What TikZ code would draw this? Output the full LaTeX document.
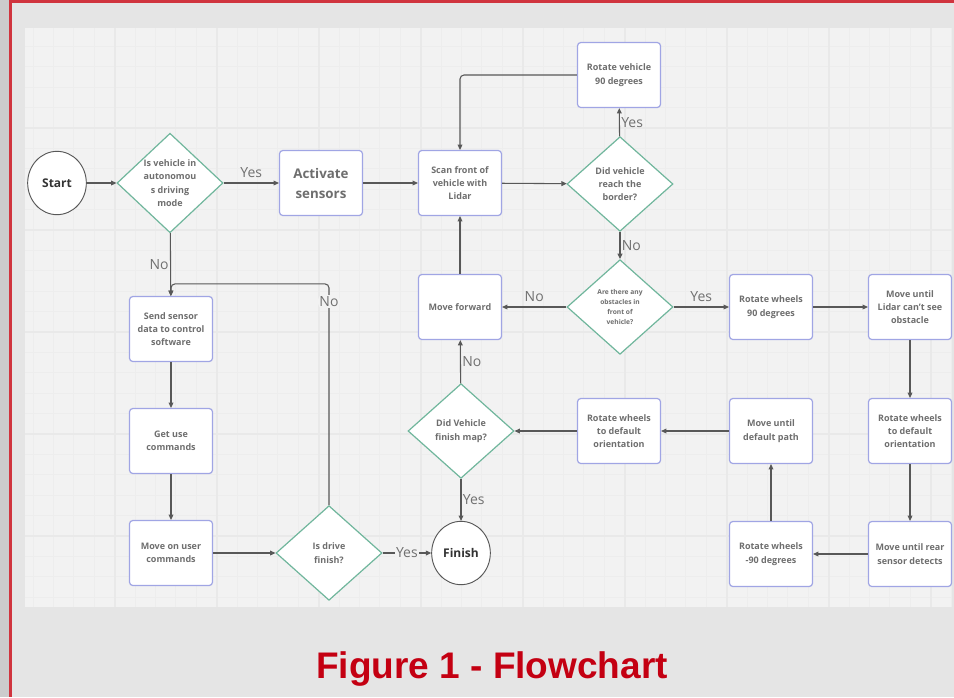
\documentclass[tikz,border=0pt]{standalone}
\usepackage{fontspec}
\setmainfont{Open Sans}
\newfontfamily\titlefont{Liberation Sans}
\usetikzlibrary{shapes.geometric,arrows.meta,calc}
\definecolor{pagegray}{RGB}{229,229,229}
\definecolor{stripgray}{RGB}{204,204,204}
\definecolor{framered}{RGB}{208,52,62}
\definecolor{canvasgray}{RGB}{242,242,242}
\definecolor{gridminor}{RGB}{237,237,237}
\definecolor{gridmajor}{RGB}{233,233,233}
\definecolor{boxline}{RGB}{160,165,228}
\definecolor{diamline}{RGB}{112,182,156}
\definecolor{flowgray}{RGB}{88,88,88}
\definecolor{boxtext}{RGB}{110,110,110}
\definecolor{lbltext}{RGB}{112,112,112}
\definecolor{titlered}{RGB}{196,0,18}
\tikzset{
  process/.style={
    shape = rectangle,
    draw = boxline,
    fill = white,
    line width = 0.9pt,
    rounded corners = 2.5pt,
    minimum width = 62.25pt,
    minimum height = 48.75pt,
    inner sep = 1pt,
    align = center,
    text = boxtext,
    font = \bfseries\fontsize{6.75}{10}\selectfont
  },
  decision/.style={
    shape = diamond,
    draw = diamline,
    fill = white,
    line width = 0.9pt,
    minimum width = 79.5pt,
    minimum height = 71pt,
    inner sep = 0pt,
    align = center,
    text = boxtext,
    font = \bfseries\fontsize{6.75}{10}\selectfont
  },
  terminal/.style={
    shape = ellipse,
    draw = flowgray,
    fill = white,
    line width = 0.7pt,
    minimum width = 44pt,
    minimum height = 47.5pt,
    inner sep = 0pt,
    text = black!80,
    font = \bfseries\fontsize{9}{11}\selectfont
  },
  flow/.style={
    draw = flowgray,
    line width = 0.8pt,
    -{Triangle[length=4pt,width=3.6pt]}
  },
  edgelbl/.style={
    text = lbltext,
    inner sep = 1pt,
    font = \fontsize{10.5}{12}\selectfont
  },
}
\begin{document}
\begin{tikzpicture}[x=0.75pt,y=-0.75pt]
  % page and frame
  \fill[pagegray] (0,0) rectangle (954,697);
  \fill[stripgray] (0,0) rectangle (9,697);
  \fill[framered] (9,0) rectangle (12,697);
  \fill[framered] (9,0) rectangle (954,3);
  \useasboundingbox (0,0) rectangle (954,697);
  % canvas with grid
  \fill[canvasgray] (25,28) rectangle (952,607);
  \foreach \gx in {0,...,45}
    \draw[gridminor,line width=0.6pt] ({33+20.4*\gx},28) -- ({33+20.4*\gx},607);
  \foreach \gy in {0,...,27}
    \draw[gridminor,line width=0.6pt] (25,{46.4+20.4*\gy}) -- (952,{46.4+20.4*\gy});
  \foreach \gx in {0,...,8}
    \draw[gridmajor,line width=0.8pt] ({115+102*\gx},28) -- ({115+102*\gx},607);
  \foreach \gy in {0,...,4}
    \draw[gridmajor,line width=0.8pt] (25,{128+102*\gy}) -- (952,{128+102*\gy});

  % nodes
  \node[terminal] (start) at (57,183) {Start};
  \node[decision] (auto) at (170,183) {Is vehicle in\\autonomou\\s driving\\mode};
  \node[process, font=\bfseries\fontsize{10}{15}\selectfont] (activate) at (321,183) {Activate\\sensors};
  \node[process] (scan) at (460,183) {Scan front of\\vehicle with\\Lidar};
  \node[decision] (border) at (620,184) {Did vehicle\\reach the\\border?};
  \node[process] (rotvehicle) at (619,75) {Rotate vehicle\\90 degrees};
  \node[decision, font=\bfseries\fontsize{5}{7.5}\selectfont] (obstacle) at (620,307) {Are there any\\obstacles in\\front of\\vehicle?};
  \node[process] (forward) at (460,307) {Move forward};
  \node[process] (rotninety) at (771,307) {Rotate wheels\\90 degrees};
  \node[process] (clear) at (910,307) {Move until\\Lidar can't see\\obstacle};
  \node[process] (defaultright) at (910,431) {Rotate wheels\\to default\\orientation};
  \node[process] (rear) at (910,554) {Move until rear\\sensor detects};
  \node[process] (rotminus) at (771,554) {Rotate wheels\\-90 degrees};
  \node[process] (path) at (771,431) {Move until\\default path};
  \node[process] (defaultmid) at (619,431) {Rotate wheels\\to default\\orientation};
  \node[decision] (mapdone) at (461,431) {Did Vehicle\\finish map?};
  \node[terminal] (finish) at (461,553) {Finish};
  \node[process] (send) at (171,329) {Send sensor\\data to control\\software};
  \node[process] (usercmd) at (171,441) {Get use\\commands};
  \node[process] (moveuser) at (171,553) {Move on user\\commands};
  \node[decision] (drivedone) at (329,553) {Is drive\\finish?};

  % connectors
  \draw[flow] (start) -- (auto);
  \draw[flow] (auto) -- node[edgelbl, above=3pt] {Yes} (activate);
  \draw[flow] (activate) -- (scan);
  \draw[flow] (scan) -- (border);
  \draw[flow] (border) -- node[edgelbl, right] {Yes} (rotvehicle);
  \draw[flow, rounded corners=3pt] (rotvehicle.west) -| (scan.north);
  \draw[flow] (border) -- node[edgelbl, right] {No} (obstacle);
  \draw[flow] (obstacle) -- node[edgelbl, above=3pt] {No} (forward);
  \draw[flow] (obstacle) -- node[edgelbl, above=3pt] {Yes} (rotninety);
  \draw[flow] (forward) -- (scan);
  \draw[flow] (rotninety) -- (clear);
  \draw[flow] (clear) -- (defaultright);
  \draw[flow] (defaultright) -- (rear);
  \draw[flow] (rear) -- (rotminus);
  \draw[flow] (rotminus) -- (path);
  \draw[flow] (path) -- (defaultmid);
  \draw[flow] (defaultmid) -- (mapdone);
  \draw[flow] (mapdone) -- node[edgelbl, right] {No} (forward);
  \draw[flow] (mapdone) -- node[edgelbl, right] {Yes} (finish);
  \draw[flow] (auto) -- node[edgelbl, left] {No} (send);
  \draw[flow] (send) -- (usercmd);
  \draw[flow] (usercmd) -- (moveuser);
  \draw[flow] (moveuser) -- (drivedone);
  \draw[flow] (drivedone) -- node[edgelbl, fill=canvasgray] {Yes} (finish);
  \draw[flow, rounded corners=3pt] (drivedone.north) |- node[edgelbl, pos=0.46, fill=canvasgray] {No} ($(send.north)+(0,-12)$) -- (send.north);

  % caption
  \node[anchor=base, text=titlered, font=\titlefont\bfseries\fontsize{27.75}{30}\selectfont] (caption) at (492,678) {Figure 1 - Flowchart};
\end{tikzpicture}
\end{document}
